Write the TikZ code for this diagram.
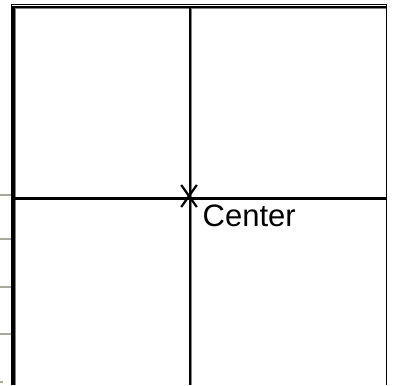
\documentclass[tikz,border=0pt]{standalone}
\usepackage{fontspec}
\setmainfont{Liberation Sans}
\usetikzlibrary{positioning}
\definecolor{tickgray}{RGB}{170,168,155}
\definecolor{edgeshade}{RGB}{130,130,130}

\begin{document}
\begin{tikzpicture}[x=1pt,y=-1pt,line cap=butt,
    frame/.style={line width=2.6pt},
    tick/.style={tickgray,line width=1.6pt}]
  \useasboundingbox[fill=white] (0,0) rectangle (393,385);
  % ruler ticks at the left edge
  \foreach \y in {195,239,287,334}{
    \draw[tick] (0,\y) -- (11,\y);
  }
  \draw[tick] (0,382) -- (3,382);
  % outer and inner frame
  \draw[line width=1.3pt] (11.5,385) -- (11.5,4.5) -- (386.5,4.5) -- (386.5,385);
  \draw[edgeshade,line width=1pt] (15.3,385) -- (15.3,8.8) -- (386,8.8);
  \draw[frame] (13.6,385) -- (13.6,7) -- (386,7);
  % quadrant lines
  \coordinate (ctr) at (189,196);
  \draw[edgeshade,line width=1pt] (191.8,8) -- (191.8,385);
  \draw[frame] (190,7) -- (190,385);
  \draw[frame] (14,198.5) -- (386,198.5);
  % center mark
  \draw[line width=2.2pt] ([shift={(-7.8,-11)}]ctr) -- ([shift={(7.8,11)}]ctr);
  \draw[line width=2.2pt] ([shift={(7.8,-11)}]ctr) -- ([shift={(-7.8,11)}]ctr);
  \node[anchor=base west,inner sep=0pt,font=\fontsize{31}{37}\selectfont]
    (lbl) at (202.5,226.5) {Center};
\end{tikzpicture}
\end{document}
